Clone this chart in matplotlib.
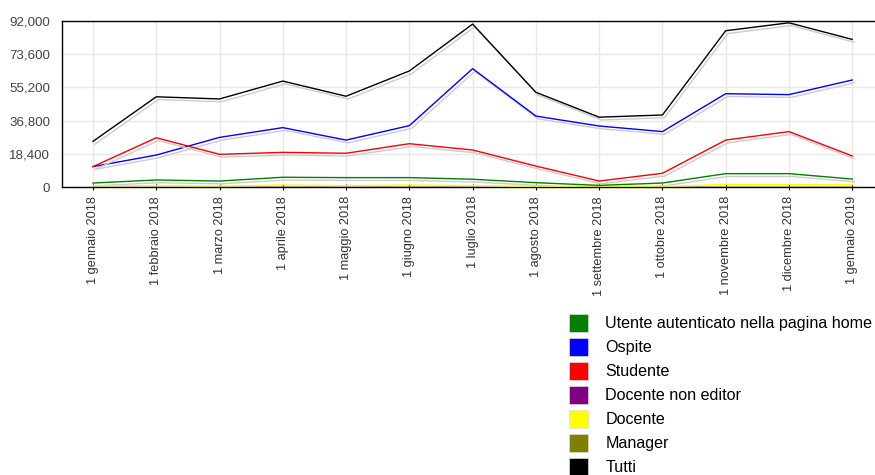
# Monthly access chart by user role (2018)
import matplotlib
matplotlib.use('Agg')
import matplotlib.pyplot as plt
import matplotlib.patheffects as pe
from matplotlib.patches import Patch
from matplotlib.ticker import FuncFormatter

plt.rcParams['font.family'] = ['Liberation Sans', 'DejaVu Sans']

# data
months = ['1 gennaio 2018', '1 febbraio 2018', '1 marzo 2018', '1 aprile 2018',
          '1 maggio 2018', '1 giugno 2018', '1 luglio 2018', '1 agosto 2018',
          '1 settembre 2018', '1 ottobre 2018', '1 novembre 2018', '1 dicembre 2018',
          '1 gennaio 2019']
utente_home = [2200, 3900, 3300, 5400, 5200, 5200, 4300, 2400, 900, 2200, 7400, 7400, 4400]
ospite = [11300, 17700, 27500, 32900, 26000, 34000, 65600, 39300, 33800, 30700, 51700, 51200, 59300]
studente = [11300, 27300, 18100, 19200, 18700, 24000, 20500, 11600, 3300, 7600, 26000, 30700, 17200]
docente_non_editor = [50, 50, 50, 50, 50, 50, 50, 50, 50, 50, 50, 50, 50]
docente = [700, 700, 500, 1100, 800, 1100, 800, 200, 100, 300, 1400, 1400, 1200]
manager = [100, 100, 100, 100, 100, 100, 100, 100, 100, 100, 100, 100, 100]
tutti = [25300, 50000, 48800, 58700, 50300, 64300, 90300, 52500, 38700, 39900, 86600, 91000, 81800]

labels = ['Utente autenticato nella pagina home', 'Ospite', 'Studente',
          'Docente non editor', 'Docente', 'Manager', 'Tutti']
series = [utente_home, ospite, studente, docente_non_editor, docente, manager, tutti]
colors = ['#008000', '#0000ff', '#ff0000', '#800080', '#ffff00', '#808000', '#000000']

yticks = [0, 18400, 36800, 55200, 73600, 92000]

fig = plt.figure(figsize=(8.75, 4.75), dpi=100)
ax = fig.add_axes([62/875, 1-187/475, 1-62/875, 166/475])

x = list(range(len(months)))
shadow = [pe.SimpleLineShadow(offset=(1.5, -2.0), shadow_color='#cccccc', alpha=1.0), pe.Normal()]
for vals, col in zip(series, colors):
    ax.plot(x, vals, color=col, lw=1.0, path_effects=shadow, zorder=3)

ax.set_xlim(-0.49, 12.36)
ax.set_ylim(0, 92000)
ax.set_yticks(yticks)
ax.yaxis.set_major_formatter(FuncFormatter(lambda v, p: f'{int(v):,}'))
ax.set_xticks(x)
ax.set_xticklabels(months, rotation=90, fontsize=9.2, color='#333333')
ax.tick_params(axis='y', length=0, labelsize=9.6, labelcolor='#444444', pad=8.5)
ax.tick_params(axis='x', direction='inout', length=4, width=0.8, pad=4.5)
ax.grid(True, color='#e8e8e8', lw=1.0, zorder=0)
ax.set_axisbelow(True)
for s in ['top', 'left', 'bottom']:
    ax.spines[s].set_color('black')
    ax.spines[s].set_linewidth(1.0)
ax.spines['right'].set_visible(False)

handles = [Patch(facecolor=c, edgecolor='#dddddd', lw=0.5) for c in colors]
fig.legend(handles, labels, loc='upper left', bbox_to_anchor=(569/875, 1-314/475),
           frameon=False, fontsize=11.6, handlelength=1.2, handleheight=1.3,
           handletextpad=1.05, labelspacing=0.40, borderpad=0, borderaxespad=0)

plt.savefig('out.png', dpi=100)
